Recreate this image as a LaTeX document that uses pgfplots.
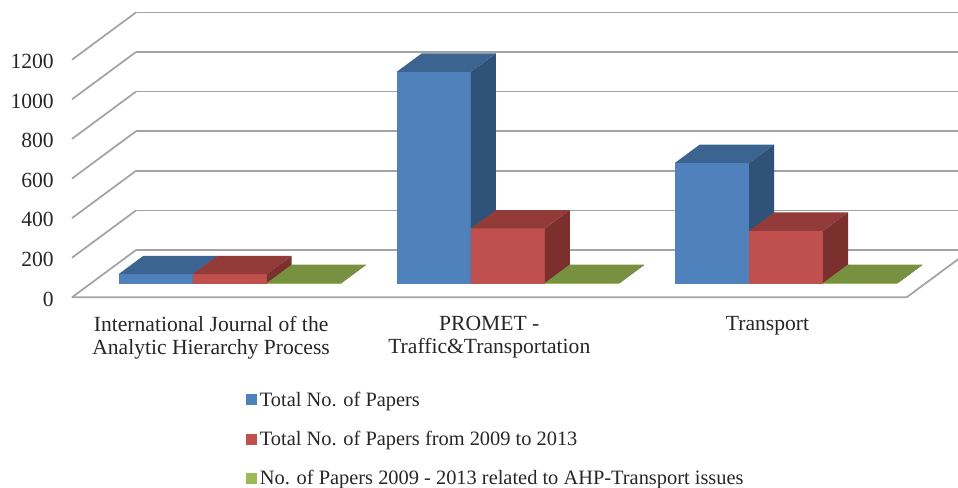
\documentclass[border=0pt]{standalone}
\usepackage{pgfplots}
\pgfplotsset{compat=1.18}
\usepackage{fontspec}
\setmainfont{Liberation Serif}
\definecolor{bluef}{HTML}{4F81BD}\definecolor{bluet}{HTML}{3C6490}\definecolor{blues}{HTML}{2F5279}
\definecolor{redf}{HTML}{C0504D}\definecolor{redt}{HTML}{923B38}\definecolor{reds}{HTML}{7B302E}
\definecolor{greenf}{HTML}{9BBB59}\definecolor{greent}{HTML}{779140}\definecolor{greens}{HTML}{5F7533}
\definecolor{gridc}{HTML}{A3A3A3}
\definecolor{txt}{HTML}{262626}
% one 3-D bar: x0, x1, value, front colour, top colour, side colour
\newcommand{\cube}[6]{%
 \addplot3[forget plot,draw=none,fill=#4] coordinates {(#1,0.292,0) (#2,0.292,0) (#2,0.292,#3) (#1,0.292,#3)};
 \addplot3[forget plot,draw=none,fill=#5] coordinates {(#1,0.292,#3) (#2,0.292,#3) (#2,0.68,#3) (#1,0.68,#3)};
 \addplot3[forget plot,draw=none,fill=#6] coordinates {(#2,0.292,0) (#2,0.68,0) (#2,0.68,#3) (#2,0.292,#3)};
}
\pgfplotsset{sq/.style={legend image code/.code={\fill[draw=none,##1] (0pt,-4.1pt) rectangle (8.3pt,4.1pt);}}}
\begin{document}
\begin{tikzpicture}
\useasboundingbox (-54pt,-143pt) rectangle (664.5pt,223pt);
\clip (-54pt,-143pt) rectangle (664.5pt,223pt);
\begin{axis}[
  at={(0,0)},anchor=origin,
  x={(208.65pt,0pt)},y={(48pt,35.5pt)},z={(0pt,0.1485pt)},
  xmin=0,xmax=3,ymin=0,ymax=1,zmin=0,zmax=1200,
  clip=false,
  axis line style={draw=none},
  tick style={draw=none},
  xtick={0.5,1.5,2.5},
  xticklabels={{International Journal of the\\Analytic Hierarchy Process},{PROMET -\\Traffic\&Transportation},{Transport}},
  xticklabel style={font=\fontsize{16.2}{17.25}\selectfont,align=center,anchor=north,inner sep=0pt,yshift=-14pt,text=txt},
  ytick=\empty,
  ztick={0,200,400,600,800,1000,1200},
  zticklabel style={font=\fontsize{16.2}{17}\selectfont,/pgf/number format/assume math mode=true,/pgf/number format/1000 sep={},anchor=east,inner sep=0pt,xshift=-13.5pt,yshift=-1.2pt,text=txt},
  zmajorgrids=true,
  major grid style={gridc,line width=1.3pt},
  legend style={at={(axis cs:0.625,0,-462)},anchor=north west,draw=none,fill=none,
    font=\fontsize{15.3}{16.5}\selectfont,text=txt,row sep=13.1pt,inner sep=0pt,
    /tikz/every even column/.append style={column sep=0pt}},
  legend cell align=left,
]
\addplot3[forget plot,gridc,line width=1.3pt] coordinates {(0,0,0) (3,0,0) (3,1,0)};
\cube{0.100}{0.367}{47}{bluef}{bluet}{blues}
\cube{0.367}{0.633}{47}{redf}{redt}{reds}
\cube{0.633}{0.900}{2}{greenf}{greent}{greens}
\cube{1.100}{1.367}{1069}{bluef}{bluet}{blues}
\cube{1.367}{1.633}{278}{redf}{redt}{reds}
\cube{1.633}{1.900}{3}{greenf}{greent}{greens}
\cube{2.100}{2.367}{609}{bluef}{bluet}{blues}
\cube{2.367}{2.633}{266}{redf}{redt}{reds}
\cube{2.633}{2.900}{3}{greenf}{greent}{greens}
\addlegendimage{sq,fill=bluef}\addlegendentry{Total No. of Papers}
\addlegendimage{sq,fill=redf}\addlegendentry{Total No. of Papers from 2009 to 2013}
\addlegendimage{sq,fill=greenf}\addlegendentry{No. of Papers 2009 - 2013 related to AHP-Transport issues}
\end{axis}
\end{tikzpicture}
\end{document}
